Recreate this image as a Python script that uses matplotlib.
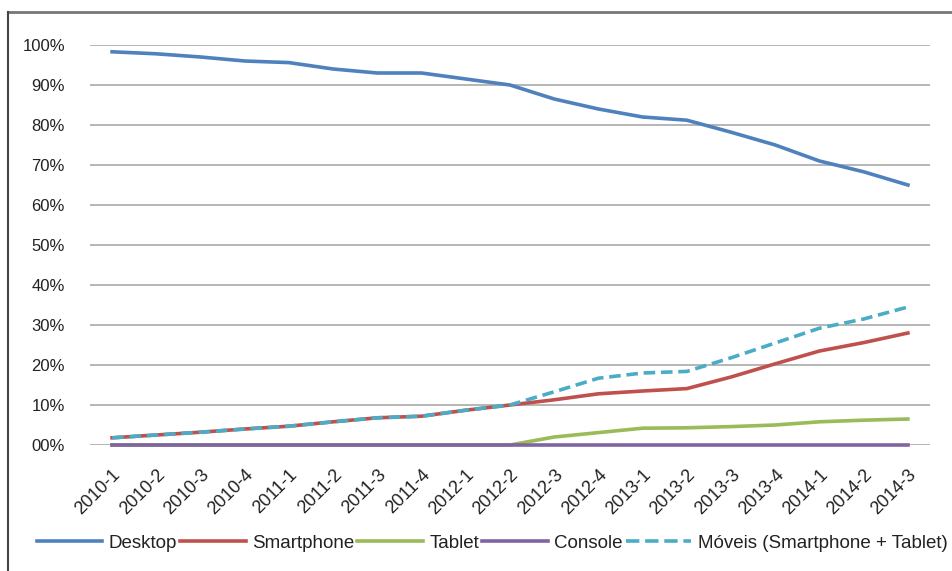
import matplotlib.pyplot as plt
from matplotlib.lines import Line2D
from matplotlib.ticker import FuncFormatter

# Quarters on the category axis
quarters = [
    "2010-1", "2010-2", "2010-3", "2010-4",
    "2011-1", "2011-2", "2011-3", "2011-4",
    "2012-1", "2012-2", "2012-3", "2012-4",
    "2013-1", "2013-2", "2013-3", "2013-4",
    "2014-1", "2014-2", "2014-3",
]

# Share of access (%) per platform
desktop = [98.3, 97.8, 97.0, 96.0, 95.6, 94.0, 93.0, 93.0, 91.5, 90.0,
           86.5, 84.0, 82.0, 81.2, 78.2, 75.0, 71.0, 68.3, 65.0]
smartphone = [1.8, 2.5, 3.2, 4.0, 4.7, 5.8, 6.8, 7.2, 8.7, 10.0,
              11.3, 12.8, 13.5, 14.1, 17.0, 20.3, 23.5, 25.6, 28.0]
tablet = [0, 0, 0, 0, 0, 0, 0, 0, 0, 0,
          2.0, 3.1, 4.2, 4.3, 4.6, 5.0, 5.8, 6.2, 6.5]
console = [0] * 19
moveis = [1.8, 2.5, 3.2, 4.0, 4.7, 5.8, 6.8, 7.2, 8.7, 10.0,
          13.3, 16.7, 18.0, 18.4, 21.8, 25.5, 29.2, 31.5, 34.5]

y_ticks = list(range(0, 101, 10))

plt.rcParams["font.family"] = ["Liberation Sans", "DejaVu Sans"]

fig = plt.figure(figsize=(9.52, 5.71), dpi=100)
ax = fig.add_axes([90 / 952, 1 - 445 / 571, 840 / 952, 400 / 571])

x = list(range(len(quarters)))
lw = 2.6
ax.plot(x, desktop, color="#4F81BD", lw=lw, label="Desktop", zorder=3)
ax.plot(x, smartphone, color="#C0504D", lw=lw, label="Smartphone", zorder=3)
ax.plot(x, tablet, color="#9BBB59", lw=lw, label="Tablet", zorder=3)
ax.plot(x, console, color="#8064A2", lw=lw, label="Console", zorder=4)
ax.plot(x, moveis, color="#4BACC6", lw=lw, ls=(0, (3.2, 1.6)),
        label="Móveis (Smartphone + Tablet)", zorder=5)
for line in ax.get_lines():
    line.set_clip_on(False)

ax.set_xlim(-0.5, len(quarters) - 0.5)
ax.set_ylim(0, 100)
ax.set_yticks(y_ticks)
ax.yaxis.set_major_formatter(FuncFormatter(lambda v, _: f"{int(v):02d}%"))
ax.set_xticks(x)
ax.set_xticklabels(quarters, rotation=45, ha="right", rotation_mode="anchor")
ax.tick_params(axis="both", length=0, colors="#222222")
ax.tick_params(axis="y", pad=18, labelsize=12)
ax.tick_params(axis="x", pad=15, labelsize=13)
ax.grid(axis="y", color="#b0b0b0", lw=1.3, zorder=0)
ax.set_axisbelow(True)
for s in ax.spines.values():
    s.set_visible(False)

handles = [Line2D([], [], color=l.get_color(), lw=lw, ls=l.get_linestyle())
           for l in ax.get_lines()]
leg = fig.legend(handles, [l.get_label() for l in ax.get_lines()],
                 loc="center", bbox_to_anchor=(0.517, 1 - 543 / 571),
                 ncol=5, frameon=False, fontsize=13.5,
                 handlelength=3.5, handletextpad=0.35, columnspacing=0.15)
for t in leg.get_texts():
    t.set_color("#222222")

# chart border (top and left only, as in the screenshot)
fig.add_artist(Line2D([8 / 952, 1], [1 - 12 / 571, 1 - 12 / 571],
                      transform=fig.transFigure, color="#777777", lw=2))
fig.add_artist(Line2D([8 / 952, 8 / 952], [0, 1 - 12 / 571],
                      transform=fig.transFigure, color="#444444", lw=1.5))

fig.savefig("out.png", dpi=100)
